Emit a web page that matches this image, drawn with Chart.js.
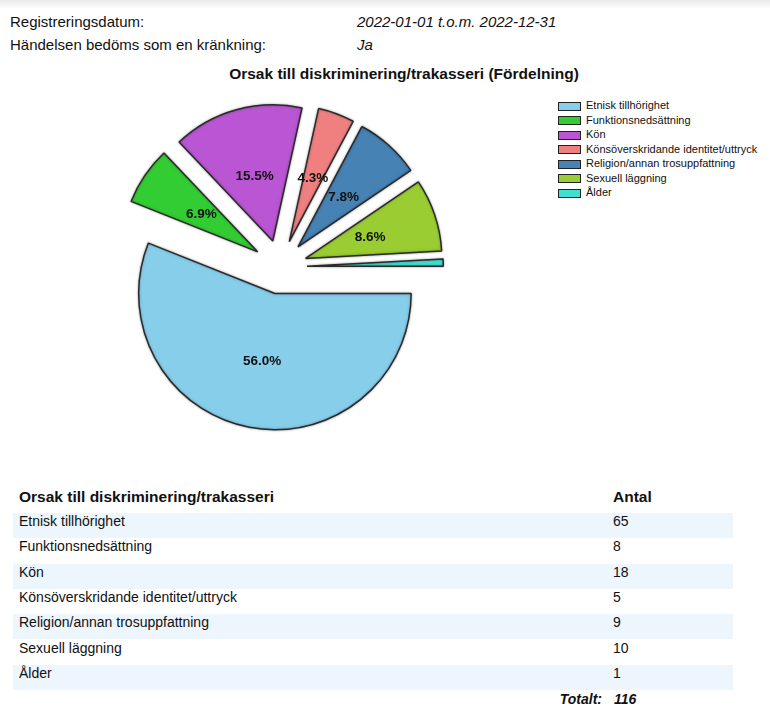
<!DOCTYPE html>
<html>
<head>
<meta charset="utf-8">
<script src="https://cdn.jsdelivr.net/npm/chart.js@4/dist/chart.umd.min.js"></script>
<style>
  html, body { margin: 0; padding: 0; background: #fff; }
  body { width: 770px; height: 706px; position: relative; overflow: hidden;
         font-family: "Liberation Sans", Arial, sans-serif; color: #111; }
  .abs { position: absolute; white-space: nowrap; }
  #topshade { position: absolute; left: 0; top: 0; width: 770px; height: 9px;
              background: linear-gradient(#e9e9e9, #ffffff); }
  .hdr { font-size: 15px; line-height: 18px; }
  .it { font-style: italic; }
  #title { font-size: 15.5px; font-weight: bold; line-height: 18px; }
  .lg-box { position: absolute; width: 21px; height: 7px; border: 1px solid #222; }
  .lg-txt { position: absolute; font-size: 11px; line-height: 14px; white-space: nowrap; }
  .band { position: absolute; left: 13px; width: 720px; background: #edf5fd; }
  .cell { position: absolute; font-size: 14px; white-space: nowrap; }
  canvas { position: absolute; }
</style>
</head>
<body>
<div id="topshade"></div>
<div class="abs hdr" style="left:10px; top:13px;">Registreringsdatum:</div>
<div class="abs hdr it" style="left:357px; top:13px;">2022-01-01 t.o.m. 2022-12-31</div>
<div class="abs hdr" style="left:10px; top:36px;">Händelsen bedöms som en kränkning:</div>
<div class="abs hdr it" style="left:357px; top:36px;">Ja</div>
<div id="title" class="abs" style="left:404px; top:65px; transform:translateX(-50%);">Orsak till diskriminering/trakasseri (Fördelning)</div>

<canvas id="pie" width="380" height="400" style="left:100px; top:80px;"></canvas>
<div id="legend"></div>
<div id="table"></div>

<script>
// ---- data ----
const categories = [
  "Etnisk tillhörighet",
  "Funktionsnedsättning",
  "Kön",
  "Könsöverskridande identitet/uttryck",
  "Religion/annan trosuppfattning",
  "Sexuell läggning",
  "Ålder"
];
const counts = [65, 8, 18, 5, 9, 10, 1];
const tableTitle = "Orsak till diskriminering/trakasseri";
const countTitle = "Antal";
const totalLabel = "Totalt:";

// ---- styles ----
const sliceColors = ["#87CEEB", "#32CD32", "#BA55D3", "#F08080", "#4682B4", "#9ACD32", "#40E0D0"];
const EXPLODE = 27;

const total = counts.reduce((a, b) => a + b, 0);

// Draw each arc of the pie shifted outward along its mid angle (exploded pie)
const explodePlugin = {
  id: 'explode',
  beforeDatasetDraw(chart, args) {
    const ctx = chart.ctx;
    args.meta.data.forEach(arc => {
      const mid = (arc.startAngle + arc.endAngle) / 2;
      ctx.save();
      ctx.shadowColor = 'rgba(0,0,0,0.35)';
      ctx.shadowBlur = 2.5;
      ctx.translate(Math.cos(mid) * EXPLODE, Math.sin(mid) * EXPLODE);
      arc.draw(ctx);
      ctx.restore();
    });
    return false;
  }
};

const labelPlugin = {
  id: 'pctLabels',
  afterDatasetsDraw(chart) {
    const ctx = chart.ctx;
    const meta = chart.getDatasetMeta(0);
    const vals = chart.data.datasets[0].data;
    const sum = vals.reduce((a, b) => a + b, 0);
    ctx.save();
    ctx.font = 'bold 13.5px "Liberation Sans", Arial, sans-serif';
    ctx.fillStyle = '#111';
    ctx.textAlign = 'center';
    ctx.textBaseline = 'middle';
    meta.data.forEach((arc, i) => {
      const pct = vals[i] / sum * 100;
      if (pct < 2) return;
      const mid = (arc.startAngle + arc.endAngle) / 2;
      const r = EXPLODE + arc.outerRadius * 0.5;
      ctx.fillText(pct.toFixed(1) + '%', arc.x + Math.cos(mid) * r, arc.y + Math.sin(mid) * r + 1);
    });
    ctx.restore();
  }
};

new Chart(document.getElementById('pie'), {
  type: 'pie',
  data: {
    labels: categories,
    datasets: [{
      data: counts,
      backgroundColor: sliceColors,
      borderColor: '#2a2a2a',
      borderWidth: 1.5,
      hoverBorderWidth: 1.5,
      offset: 0,
      hoverOffset: 0,
      clip: false
    }]
  },
  options: {
    responsive: false,
    animation: false,
    events: [],
    rotation: 90,
    layout: { padding: { left: 43, right: 63, top: 50, bottom: 76 } },
    plugins: {
      legend: { display: false },
      title: { display: false },
      tooltip: { enabled: false }
    }
  },
  plugins: [explodePlugin, labelPlugin]
});

// ---- legend ----
const legend = document.getElementById('legend');
categories.forEach((c, i) => {
  const cy = 105 + i * 14.55;
  const box = document.createElement('div');
  box.className = 'lg-box';
  box.style.left = '558px';
  box.style.top = (cy - 3.5) + 'px';
  box.style.background = sliceColors[i];
  legend.appendChild(box);
  const t = document.createElement('div');
  t.className = 'lg-txt';
  t.style.left = '586px';
  t.style.top = (cy - 7) + 'px';
  t.textContent = c;
  legend.appendChild(t);
});

// ---- table ----
const table = document.getElementById('table');
function cell(text, left, top, h, extra) {
  const d = document.createElement('div');
  d.className = 'cell';
  d.style.left = left + 'px';
  d.style.top = top + 'px';
  d.style.lineHeight = h + 'px';
  if (extra) Object.assign(d.style, extra);
  d.textContent = text;
  table.appendChild(d);
  return d;
}
cell(tableTitle, 19, 487, 20, { fontWeight: 'bold', fontSize: '15.5px' });
cell(countTitle, 613, 487, 20, { fontWeight: 'bold', fontSize: '15.5px' });
const rowH = 25.3;
categories.forEach((c, i) => {
  const top = 513 + i * rowH;
  if (i % 2 === 0) {
    const b = document.createElement('div');
    b.className = 'band';
    b.style.top = top + 'px';
    b.style.height = rowH + 'px';
    table.appendChild(b);
  }
  cell(c, 19, top - 4, rowH);
  cell(String(counts[i]), 613, top - 4, rowH);
});
cell(totalLabel, 0, 689, 20, { fontWeight: 'bold', fontStyle: 'italic', width: '602px', textAlign: 'right' });
cell(String(total), 614, 689, 20, { fontWeight: 'bold', fontStyle: 'italic' });
</script>
</body>
</html>
